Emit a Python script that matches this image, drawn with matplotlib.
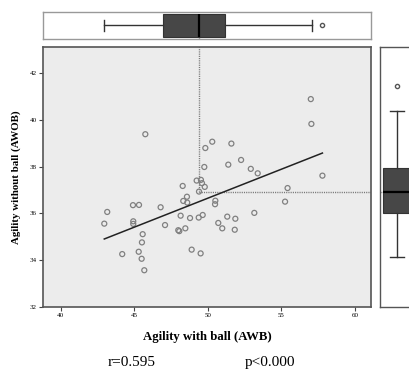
import matplotlib
matplotlib.use("Agg")
import matplotlib.pyplot as plt
import numpy as np

# scatter values
awb = [45.76, 50.31, 49.84, 51.61, 52.27, 51.40, 49.77, 52.93, 53.40, 49.25,
       49.54, 49.61, 49.80, 48.30, 49.41, 55.43, 48.59, 48.34, 48.61, 50.52,
       50.50, 55.26, 44.92, 45.33, 46.80, 43.17, 42.97, 44.94, 44.94, 48.16,
       48.80, 49.39, 49.66, 51.33, 51.88, 53.17, 47.10, 50.72, 50.99, 51.84,
       48.00, 48.07, 48.48, 45.58, 45.53, 44.19, 45.31, 45.51, 45.69, 48.91,
       49.52, 57.01, 57.05, 57.80]
awob = [39.38, 39.06, 38.79, 38.98, 38.28, 38.08, 37.98, 37.90, 37.71, 37.40,
        37.43, 37.29, 37.13, 37.17, 36.93, 37.08, 36.71, 36.53, 36.46, 36.54,
        36.39, 36.50, 36.35, 36.36, 36.26, 36.06, 35.56, 35.66, 35.55, 35.90,
        35.80, 35.82, 35.93, 35.86, 35.77, 36.02, 35.50, 35.59, 35.36, 35.30,
        35.28, 35.24, 35.36, 35.11, 34.76, 34.26, 34.36, 34.06, 33.57, 34.45,
        34.29, 40.88, 39.82, 37.61]

# fit line as drawn
fit_slope = 0.2475
fit_intercept = 24.27

# box plot summaries
awb_box = dict(whislo=42.97, q1=46.94, med=49.41, q3=51.18, whishi=57.07, fliers=[57.78])
awob_box = dict(whislo=34.15, q1=36.03, med=36.90, q3=37.95, whishi=40.38, fliers=[41.46])

r_text = "r=0.595"
p_text = "p<0.000"

plt.rcParams['font.family'] = ['Liberation Serif', 'DejaVu Serif']

fig = plt.figure(figsize=(4.09, 3.71), dpi=100)
ax = fig.add_axes([0.105, 0.1725, 0.802, 0.7005])
ax_top = fig.add_axes([0.105, 0.8949, 0.802, 0.0728])
ax_right = fig.add_axes([0.929, 0.1725, 0.083, 0.7005])

xlim = (38.8, 61.1)
ylim = (32, 43.1)

# main scatter
ax.set_facecolor('#ececec')
ax.scatter(awb, awob, s=13, facecolors='none', edgecolors='#808080', linewidths=0.9, zorder=3)
xs = np.array([min(awb), max(awb)])
ax.plot(xs, fit_slope * xs + fit_intercept, color='#222222', lw=1.1, zorder=4)

# dotted median guides
dots = (0, (0.8, 0.8))
ax.plot([awb_box['med'], awb_box['med']], [awob_box['med'], ylim[1]], color='#777777', lw=1.0,
        ls=dots, zorder=2)
ax.plot([awb_box['med'], xlim[1]], [awob_box['med'], awob_box['med']], color='#777777', lw=1.0,
        ls=dots, zorder=2)

ax.set_xlim(*xlim)
ax.set_ylim(*ylim)
ax.set_xticks([40, 45, 50, 55, 60])
ax.set_yticks([32, 34, 36, 38, 40, 42])
ax.tick_params(labelsize=5, length=3, width=0.8, color='#444444', pad=1.5)
for s in ax.spines.values():
    s.set_color('#555555')
    s.set_linewidth(1.2)
ax.set_xlabel('Agility with ball (AWB)', fontsize=9.2, fontweight='bold', labelpad=9)
ax.set_ylabel('Agility without ball (AWOB)', fontsize=7.8, fontweight='bold', labelpad=6)

boxprops = dict(facecolor='#474747', edgecolor='#333333', linewidth=0.8)
medprops = dict(color='black', linewidth=1.6)
whisk = dict(color='#333333', linewidth=1.0)
flier = dict(marker='o', markerfacecolor='none', markeredgecolor='#555555', markersize=3)

# top box plot
ax_top.bxp([dict(awb_box)], vert=False, positions=[0], widths=1.0, patch_artist=True,
           boxprops=boxprops, medianprops=medprops, whiskerprops=whisk,
           capprops=whisk, flierprops=flier)
ax_top.plot([awb_box['med'], awb_box['med']], [-0.6, -0.5], color='#777777', lw=1.0, ls=dots)
ax_top.set_xlim(*xlim)
ax_top.set_ylim(-0.6, 0.6)
ax_top.set_xticks([])
ax_top.set_yticks([])
for s in ax_top.spines.values():
    s.set_color('#999999')
    s.set_linewidth(1.0)

# right box plot
ax_right.bxp([dict(awob_box)], vert=True, positions=[0], widths=1.65, patch_artist=True,
             boxprops=boxprops, medianprops=medprops, whiskerprops=whisk,
             capprops=whisk, flierprops=flier)
ax_right.plot([-1.0, -0.825], [awob_box['med'], awob_box['med']], color='#777777', lw=1.0, ls=dots)
ax_right.set_ylim(*ylim)
ax_right.set_xlim(-1.0, 1.0)
ax_right.set_xticks([])
ax_right.set_yticks([])
for s in ax_right.spines.values():
    s.set_color('#555555')
    s.set_linewidth(1.0)

fig.text(0.262, 0.0224, r_text, fontsize=11, ha='left', va='center')
fig.text(0.599, 0.0224, p_text, fontsize=11, ha='left', va='center')

fig.savefig('out.png', dpi=100)
